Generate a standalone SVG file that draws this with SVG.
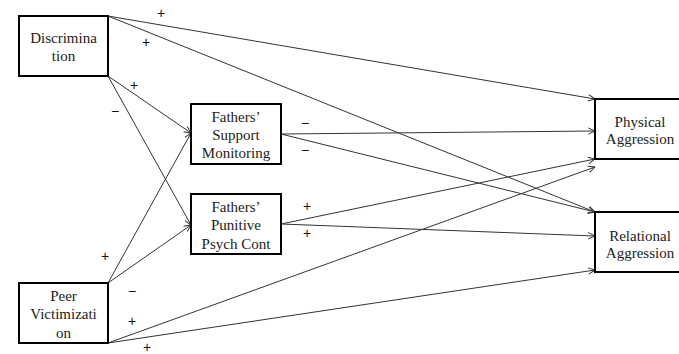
<svg xmlns="http://www.w3.org/2000/svg" width="679" height="354" viewBox="0 0 679 354">
  <style>
    .box { fill: #ffffff; stroke: #000000; stroke-width: 2; }
    .lbl { font-family: 'Liberation Serif', 'Times New Roman', Times, 'DejaVu Serif', serif; font-size: 15px; fill: #222222; text-anchor: middle; }
    .sign { font-family: 'Liberation Sans', Arial, sans-serif; font-size: 14px; fill: #111111; text-anchor: middle; }
    .edge { stroke: #333333; stroke-width: 1; fill: none; marker-end: url(#arr); }
  </style>
  <defs>
    <marker id="arr" viewBox="0 0 10 10" refX="9.5" refY="5" markerWidth="8" markerHeight="8" markerUnits="userSpaceOnUse" orient="auto">
      <path d="M1,1 L9.5,5 L1,9" fill="none" stroke="#333333" stroke-width="1.2"/>
    </marker>
  </defs>
  <rect width="679" height="354" fill="#ffffff"/>

  <g id="connectors">
    <!-- Discrimination -->
    <line class="edge" x1="108" y1="16" x2="595" y2="99"/>
    <line class="edge" x1="108" y1="16" x2="595" y2="212"/>
    <line class="edge" x1="108" y1="76" x2="191" y2="133"/>
    <line class="edge" x1="108" y1="76" x2="191" y2="225"/>
    <!-- Peer Victimization -->
    <line class="edge" x1="108" y1="283" x2="191" y2="133"/>
    <line class="edge" x1="108" y1="283" x2="191" y2="225"/>
    <line class="edge" x1="108" y1="343" x2="595" y2="167"/>
    <line class="edge" x1="108" y1="343" x2="595" y2="270"/>
    <!-- Fathers' Support Monitoring -->
    <line class="edge" x1="281" y1="134" x2="595" y2="131"/>
    <line class="edge" x1="281" y1="134" x2="595" y2="212"/>
    <!-- Fathers' Punitive Psych Cont -->
    <line class="edge" x1="281" y1="224" x2="595" y2="159"/>
    <line class="edge" x1="281" y1="224" x2="595" y2="236"/>
  </g>

  <g id="signs">
    <text class="sign" x="161" y="18">+</text>
    <text class="sign" x="146" y="47">+</text>
    <text class="sign" x="134" y="90">+</text>
    <text class="sign" x="115" y="116">−</text>
    <text class="sign" x="305" y="128">−</text>
    <text class="sign" x="305" y="155">−</text>
    <text class="sign" x="307" y="211">+</text>
    <text class="sign" x="307" y="238">+</text>
    <text class="sign" x="105" y="261">+</text>
    <text class="sign" x="132" y="296">−</text>
    <text class="sign" x="132" y="326">+</text>
    <text class="sign" x="147" y="352">+</text>
  </g>

  <g id="discrimination">
    <rect class="box" x="19" y="16" width="89" height="60"/>
    <text class="lbl" x="63.5" y="43">Discrimina</text>
    <text class="lbl" x="63.5" y="61">tion</text>
  </g>

  <g id="support-monitoring">
    <rect class="box" x="191" y="104" width="90" height="60"/>
    <text class="lbl" x="236" y="122">Fathers’</text>
    <text class="lbl" x="236" y="140">Support</text>
    <text class="lbl" x="236" y="158">Monitoring</text>
  </g>

  <g id="punitive-psych-cont">
    <rect class="box" x="191" y="194" width="90" height="60"/>
    <text class="lbl" x="236" y="212">Fathers’</text>
    <text class="lbl" x="236" y="230">Punitive</text>
    <text class="lbl" x="236" y="249">Psych Cont</text>
  </g>

  <g id="peer-victimization">
    <rect class="box" x="19" y="283" width="89" height="60"/>
    <text class="lbl" x="63.5" y="301">Peer</text>
    <text class="lbl" x="63.5" y="319">Victimizati</text>
    <text class="lbl" x="63.5" y="338">on</text>
  </g>

  <g id="physical-aggression">
    <rect class="box" x="595" y="99" width="90" height="60"/>
    <text class="lbl" x="640" y="127">Physical</text>
    <text class="lbl" x="640" y="144">Aggression</text>
  </g>

  <g id="relational-aggression">
    <rect class="box" x="595" y="212" width="90" height="60"/>
    <text class="lbl" x="640" y="241">Relational</text>
    <text class="lbl" x="640" y="258">Aggression</text>
  </g>
</svg>
